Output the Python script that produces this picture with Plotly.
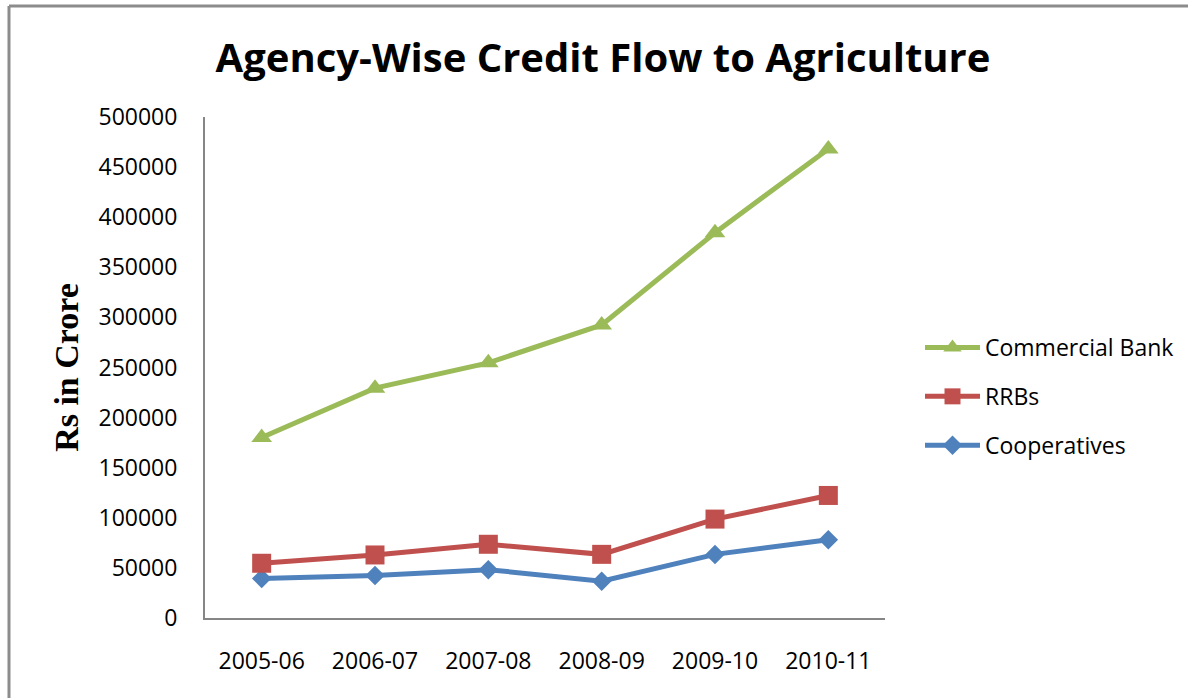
import plotly.graph_objects as go

years = ["2005-06", "2006-07", "2007-08", "2008-09", "2009-10", "2010-11"]
cooperatives = [39404, 42480, 48258, 36762, 63497, 78007]
rrbs = [15223, 20435, 25312, 26765, 35217, 44293]
commercial = [125477, 166485, 181088, 228951, 285800, 345877]

W, H = 1188, 698
L, R, T, B = 205, 303, 117, 80
PW, PH = W - L - R, H - T - B
FONT = "Open Sans"

def px(x):
    return (x - L) / PW

def py(y):
    return (H - B - y) / PH

fig = go.Figure()
fig.add_trace(go.Scatter(x=years, y=cooperatives, name="Cooperatives", stackgroup="s", fill="none",
                         legendgroup="c", legendrank=3, mode="lines+markers",
                         line=dict(color="#4F81BD", width=5),
                         marker=dict(symbol="diamond", size=15, color="#4F81BD")))
fig.add_trace(go.Scatter(x=years, y=rrbs, name="RRBs", stackgroup="s", fill="none",
                         legendgroup="r", legendrank=2, mode="lines+markers",
                         line=dict(color="#C0504D", width=5),
                         marker=dict(symbol="square", size=19, color="#C0504D")))
fig.add_trace(go.Scatter(x=years, y=commercial, name="Commercial Bank", stackgroup="s", fill="none",
                         legendgroup="b", legendrank=1, mode="lines+markers",
                         line=dict(color="#9BBB59", width=5),
                         marker=dict(symbol="triangle-up", size=18, color="#9BBB59")))

fig.update_layout(
    width=W, height=H,
    margin=dict(l=L, r=R, t=T, b=B, autoexpand=False),
    paper_bgcolor="white", plot_bgcolor="white",
    title=dict(text="<b>Agency-Wise Credit Flow to Agriculture</b>",
               font=dict(family=FONT, size=40, color="black"),
               xref="container", x=603 / W, xanchor="center",
               yref="container", y=1 - 58 / H, yanchor="middle"),
    xaxis=dict(type="category", showline=True, linecolor="#868686", linewidth=2, ticks="", showgrid=False,
               tickfont=dict(family=FONT, size=23, color="black"), ticklabelstandoff=21,
               range=[-0.5, 5.5], automargin=False, tickangle=0),
    yaxis=dict(range=[0, 500000], dtick=50000, showline=True, linecolor="#868686", linewidth=2,
               showgrid=False, ticks="", tickformat="d", automargin=False,
               tickfont=dict(family=FONT, size=23, color="black"), ticklabelstandoff=21,
               title=dict(text="<b>Rs in Crore</b>", font=dict(family="Liberation Serif", size=34, color="black"),
                          standoff=10)),
    legend=dict(x=px(920), y=py(326), xanchor="left", yanchor="top", traceorder="grouped",
                font=dict(family=FONT, size=23, color="black"), tracegroupgap=16,
                itemwidth=55, bgcolor="rgba(0,0,0,0)"),
    shapes=[
        dict(type="line", xref="paper", yref="paper", x0=px(9), x1=px(W + 5), y0=py(6), y1=py(6),
             line=dict(color="#8C8C8C", width=3)),
        dict(type="line", xref="paper", yref="paper", x0=px(9), x1=px(9), y0=py(6), y1=py(H + 5),
             line=dict(color="#8C8C8C", width=3)),
    ],
)

fig.write_html("out.html", config={"displayModeBar": False},
               post_script="document.body.style.margin='0';")
